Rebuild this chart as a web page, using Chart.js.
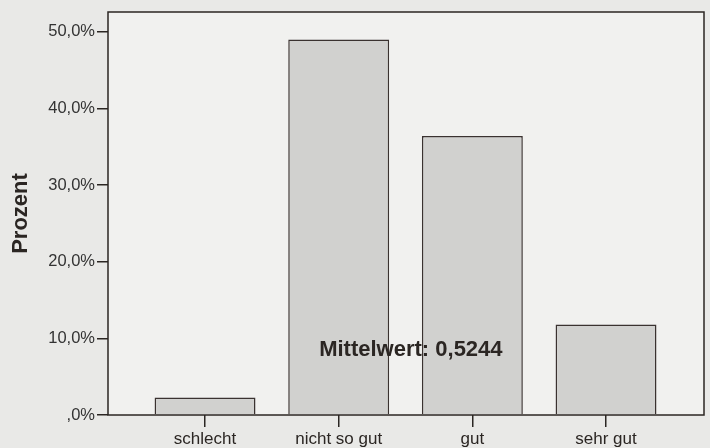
<!DOCTYPE html>
<html>
<head>
<meta charset="utf-8">
<script src="https://cdn.jsdelivr.net/npm/chart.js@4/dist/chart.umd.min.js"></script>
<style>
  html, body { margin: 0; padding: 0; background: #e9e9e7; }
  #wrap { width: 710px; height: 448px; }
</style>
</head>
<body>
<div id="wrap"><canvas id="mainChart" width="710" height="448"></canvas></div>
<script>
// Antworten (Prozent)
const categories = ['schlecht', 'nicht so gut', 'gut', 'sehr gut'];
const percents = [2.3, 49.0, 36.4, 11.8];
const yTicks = [0, 10, 20, 30, 40, 50];
const meanLabel = 'Mittelwert: 0,5244';

const INK = '#2b2623';
Chart.defaults.font.family = "'Liberation Sans', Arial, sans-serif";
Chart.defaults.color = INK;

// plot frame + light background + mean label
const framePlugin = {
  id: 'frame',
  beforeDatasetsDraw(chart) {
    const { ctx, chartArea: a } = chart;
    ctx.save();
    ctx.fillStyle = '#f1f1ef';
    ctx.fillRect(a.left, a.top, a.right - a.left, a.bottom - a.top);
    ctx.restore();
  },
  afterDatasetsDraw(chart, args, opts) {
    const { ctx, chartArea: a, scales } = chart;
    ctx.save();
    ctx.strokeStyle = INK;
    ctx.lineWidth = 1.5;
    ctx.strokeRect(a.left, a.top, a.right - a.left, a.bottom - a.top);
    ctx.fillStyle = INK;
    ctx.font = "bold 22px 'Liberation Sans', Arial, sans-serif";
    ctx.textAlign = 'center';
    ctx.textBaseline = 'middle';
    ctx.fillText(opts.text, scales.x.getPixelForValue(opts.x), scales.y.getPixelForValue(opts.y));
    ctx.restore();
  }
};

new Chart(document.getElementById('mainChart').getContext('2d'), {
  type: 'bar',
  data: {
    datasets: [{
      data: percents.map((v, i) => ({ x: i + 1, y: v })),
      backgroundColor: '#d1d1cf',
      borderColor: '#3a3230',
      borderWidth: 1.5,
      borderSkipped: 'bottom',
      barPercentage: 0.755,
      categoryPercentage: 1
    }]
  },
  options: {
    responsive: false, animation: false,
    layout: { padding: { top: 12, right: 6, left: 0, bottom: 0 } },
    plugins: {
      legend: { display: false }, tooltip: { enabled: false },
      frame: { text: meanLabel, x: 2.54, y: 8.5 }
    },
    scales: {
      x: {
        type: 'linear', min: 0.274, max: 4.733, offset: false,
        afterBuildTicks: s => { s.ticks = categories.map((_, i) => ({ value: i + 1 })); },
        afterFit: s => { s.height = 33; },
        border: { display: false },
        grid: { offset: false, drawOnChartArea: false, drawTicks: true, tickLength: 12, color: INK, lineWidth: 1.5 },
        ticks: { callback: v => categories[v - 1], font: { size: 17 }, padding: 2, maxRotation: 0, color: INK }
      },
      y: {
        min: 0, max: 52.6,
        afterBuildTicks: s => { s.ticks = yTicks.map(v => ({ value: v })); },
        afterFit: s => { s.width = 108; },
        border: { display: false },
        grid: { drawOnChartArea: false, drawTicks: true, tickLength: 11, color: INK, lineWidth: 1.5 },
        ticks: {
          callback: v => (v === 0 ? ',0%' : v.toFixed(1).replace('.', ',') + '%'),
          font: { size: 16.5 }, padding: 2, color: '#333'
        },
        title: { display: true, text: 'Prozent', font: { size: 22, weight: 'bold' }, padding: { top: 8, bottom: 0 }, color: INK }
      }
    }
  },
  plugins: [framePlugin]
});
</script>
</body>
</html>
